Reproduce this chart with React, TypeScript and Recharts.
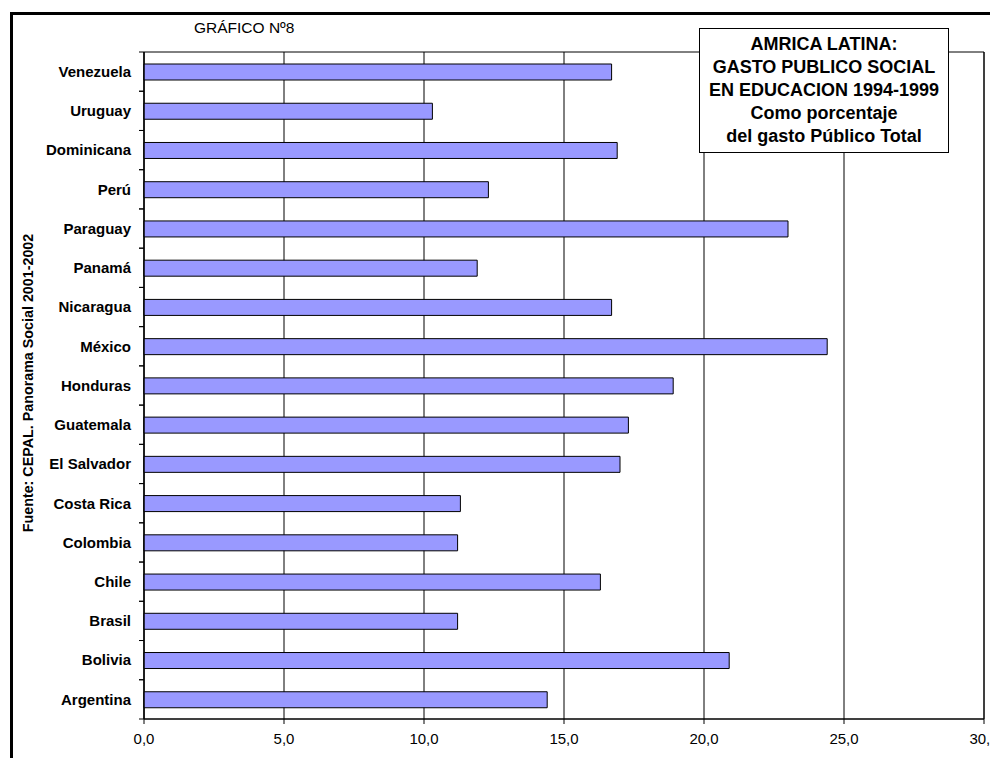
import React from 'react';
import { BarChart, Bar, XAxis, YAxis, CartesianGrid, ReferenceArea } from 'recharts';

const FONT = '"Liberation Sans", Arial, sans-serif';

// Gasto público social en educación, % del gasto público total (1994-1999)
const countries = [
  'Argentina', 'Bolivia', 'Brasil', 'Chile', 'Colombia', 'Costa Rica',
  'El Salvador', 'Guatemala', 'Honduras', 'México', 'Nicaragua', 'Panamá',
  'Paraguay', 'Perú', 'Dominicana', 'Uruguay', 'Venezuela',
];
const gasto = [
  14.4, 20.9, 11.2, 16.3, 11.2, 11.3,
  17.0, 17.3, 18.9, 24.4, 16.7, 11.9,
  23.0, 12.3, 16.9, 10.3, 16.7,
];
const xTicks = [0, 5, 10, 15, 20, 25, 30];

const titleLines = [
  'AMRICA LATINA:',
  'GASTO PUBLICO SOCIAL',
  'EN EDUCACION 1994-1999',
  'Como porcentaje',
  'del gasto Público Total',
];

const data = countries.map((name, i) => ({ name, value: gasto[i] }));

const W = 990;
const H = 758;
const MARGIN = { top: 52, right: 6, left: 0, bottom: 0 };
const X_AXIS_H = 39;
const Y_AXIS_W = 144;
const BAND = (H - MARGIN.top - MARGIN.bottom - X_AXIS_H) / countries.length;
const LABEL_GAP = 13;

const fmt = (v: number) => v.toFixed(1).replace('.', ',');

// category label plus small marks on the band boundaries
function CountryTick(props: any) {
  const { x, y, payload } = props;
  const axisX = x + LABEL_GAP;
  return (
    <g>
      <line x1={axisX - 5} x2={axisX} y1={y - BAND / 2} y2={y - BAND / 2} stroke="#000" />
      <line x1={axisX - 5} x2={axisX} y1={y + BAND / 2} y2={y + BAND / 2} stroke="#000" />
      <text
        x={x}
        y={y}
        dy="0.355em"
        textAnchor="end"
        fontFamily={FONT}
        fontWeight="bold"
        fontSize={15}
        fill="#000"
      >
        {payload.value}
      </text>
    </g>
  );
}

export default function App() {
  return (
    <div
      style={{
        position: 'absolute',
        left: 0,
        top: 0,
        width: W,
        height: H,
        overflow: 'hidden',
        background: '#fff',
      }}
    >
      <BarChart width={W} height={H} data={data} layout="vertical" margin={MARGIN}>
        <CartesianGrid horizontal={false} stroke="#000" />
        <XAxis
          type="number"
          domain={[0, 30]}
          ticks={xTicks}
          tickFormatter={fmt}
          height={X_AXIS_H}
          interval={0}
          axisLine={{ stroke: '#000' }}
          tickLine={{ stroke: '#000' }}
          tickSize={5}
          tickMargin={9}
          tick={{ fill: '#000', fontSize: 15, fontFamily: FONT }}
        />
        <YAxis
          type="category"
          dataKey="name"
          reversed
          width={Y_AXIS_W}
          axisLine={{ stroke: '#000' }}
          tickLine={false}
          tickSize={0}
          tickMargin={LABEL_GAP}
          interval={0}
          tick={<CountryTick />}
        />
        <ReferenceArea x1={0} x2={30} fill="none" stroke="#000" strokeOpacity={1} />
        <Bar
          dataKey="value"
          fill="#9999ff"
          stroke="#000"
          strokeWidth={1}
          barSize={16}
          isAnimationActive={false}
        />
      </BarChart>
      <svg
        width={W}
        height={H}
        style={{ position: 'absolute', left: 0, top: 0, pointerEvents: 'none' }}
      >
        <rect x={11.5} y={13.5} width={1100} height={1100} fill="none" stroke="#000" strokeWidth={3} />
        <text x={194} y={33} fontFamily={FONT} fontSize={15.5} fill="#000">
          GRÁFICO Nº8
        </text>
        <text
          transform="translate(33, 383) rotate(-90)"
          textAnchor="middle"
          fontFamily={FONT}
          fontWeight="bold"
          fontSize={14.3}
          fill="#000"
        >
          Fuente: CEPAL. Panorama Social 2001-2002
        </text>
        <rect x={699.5} y={28.5} width={249} height={124} fill="#fff" stroke="#000" />
        {titleLines.map((line, i) => (
          <text
            key={line}
            x={824}
            y={50 + i * 23}
            textAnchor="middle"
            fontFamily={FONT}
            fontWeight="bold"
            fontSize={18}
            fill="#000"
          >
            {line}
          </text>
        ))}
      </svg>
    </div>
  );
}
